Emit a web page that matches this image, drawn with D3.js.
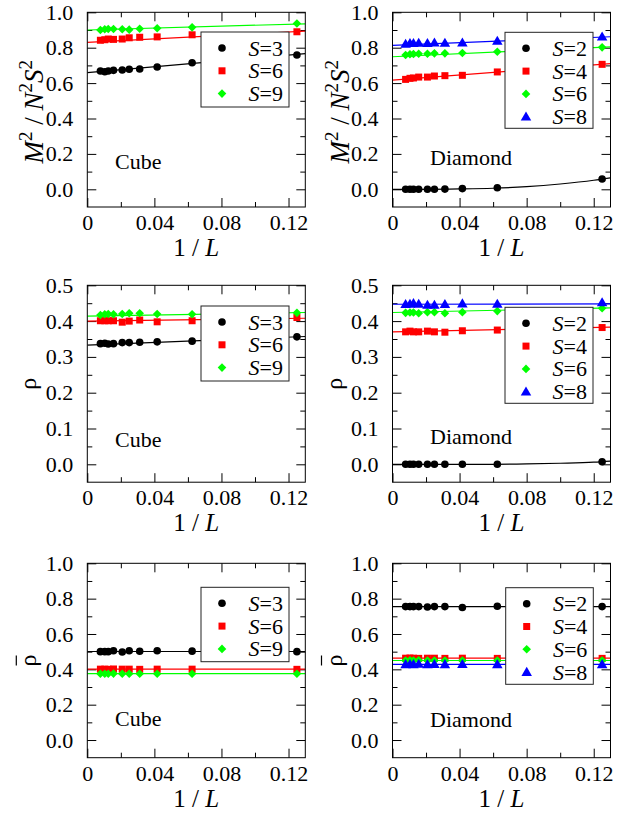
<!DOCTYPE html>
<html>
<head>
<meta charset="utf-8">
<script src="https://cdn.jsdelivr.net/npm/d3@7"></script>
<style>
  body { margin: 0; background: #fff; }
  svg { display: block; font-family: 'Liberation Serif', 'Times New Roman', serif; }
</style>
</head>
<body>
<svg width="639" height="815"></svg>
<script>
// system sizes L, plotted as 1/L
const sizes = [128, 96, 80, 64, 48, 40, 32, 24, 16, 8];

const xMajor = [0, 0.04, 0.08, 0.12];
const xMinor = [0.02, 0.06, 0.1];
const xTickLabels = ['0', '0.04', '0.08', '0.12'];

// y ticks per row
const yMajorM2 = [0, 0.2, 0.4, 0.6, 0.8, 1.0];
const yMinorM2 = [0.1, 0.3, 0.5, 0.7, 0.9];
const yMajorRho = [0, 0.1, 0.2, 0.3, 0.4, 0.5];
const yMinorRho = [0.05, 0.15, 0.25, 0.35, 0.45];

const cubeSpins = ['3', '6', '9'];
const diamondSpins = ['2', '4', '6', '8'];

// x positions of the fitted lines
const fitLineX = [0, 0.13];
const fitCurveX = [0, 0.02, 0.04, 0.06, 0.08, 0.1, 0.12, 0.13];

// M^2 / N^2 S^2, cube
const cubeM2S3 = [0.668, 0.664, 0.668, 0.672, 0.674, 0.678, 0.680, 0.691, 0.715, 0.759];
const cubeM2S6 = [0.842, 0.845, 0.849, 0.847, 0.849, 0.856, 0.859, 0.861, 0.873, 0.890];
const cubeM2S9 = [0.900, 0.904, 0.906, 0.906, 0.904, 0.902, 0.907, 0.910, 0.915, 0.937];
const cubeM2Fit3 = [0.659, 0.767];
const cubeM2Fit6 = [0.830, 0.894];
const cubeM2Fit9 = [0.900, 0.935];

// M^2 / N^2 S^2, diamond
const diaM2S2 = [0, 0, 0, 0, 0, 0, 0.001, 0.004, 0.009, 0.058];
const diaM2S4 = [0.621, 0.627, 0.629, 0.634, 0.634, 0.640, 0.642, 0.644, 0.663, 0.706];
const diaM2S6 = [0.759, 0.763, 0.764, 0.766, 0.766, 0.768, 0.768, 0.770, 0.777, 0.802];
const diaM2S8 = [0.821, 0.825, 0.825, 0.827, 0.825, 0.828, 0.827, 0.828, 0.838, 0.862];
const diaM2Fit2 = [0, 0, 0.002, 0.006, 0.015, 0.030, 0.051, 0.065];
const diaM2Fit4 = [0.617, 0.710];
const diaM2Fit6 = [0.749, 0.805];
const diaM2Fit8 = [0.813, 0.862];

// rho, cube
const cubeRhoS3 = [0.337, 0.338, 0.336, 0.337, 0.340, 0.340, 0.341, 0.342, 0.344, 0.356];
const cubeRhoS6 = [0.401, 0.401, 0.401, 0.401, 0.397, 0.400, 0.403, 0.398, 0.401, 0.410];
const cubeRhoS9 = [0.417, 0.419, 0.420, 0.419, 0.420, 0.422, 0.422, 0.420, 0.419, 0.423];
const cubeRhoFit3 = [0.333, 0.357];
const cubeRhoFit6 = [0.400, 0.408];
const cubeRhoFit9 = [0.414, 0.424];

// rho, diamond
const diaRhoS2 = [0, 0, 0, 0, 0, 0, 0, 0, 0, 0.007];
const diaRhoS4 = [0.370, 0.372, 0.370, 0.370, 0.372, 0.370, 0.369, 0.373, 0.375, 0.382];
const diaRhoS6 = [0.423, 0.424, 0.424, 0.422, 0.425, 0.425, 0.422, 0.425, 0.428, 0.436];
const diaRhoS8 = [0.447, 0.448, 0.450, 0.448, 0.445, 0.445, 0.447, 0.449, 0.448, 0.452];
const diaRhoFit2 = [0, 0, 0, 0, 0.001, 0.003, 0.006, 0.009];
const diaRhoFit4 = [0.370, 0.383];
const diaRhoFit6 = [0.424, 0.437];
const diaRhoFit8 = [0.447, 0.448];

// rho bar, cube
const cubeBarS3 = [0.500, 0.500, 0.500, 0.505, 0.498, 0.505, 0.502, 0.505, 0.503, 0.500];
const cubeBarS6 = [0.401, 0.401, 0.400, 0.402, 0.401, 0.401, 0.400, 0.401, 0.401, 0.400];
const cubeBarS9 = [0.375, 0.375, 0.375, 0.376, 0.375, 0.375, 0.375, 0.375, 0.375, 0.375];
const cubeBarFit3 = [0.501, 0.501];
const cubeBarFit6 = [0.401, 0.401];
const cubeBarFit9 = [0.376, 0.376];

// rho bar, diamond
const diaBarS2 = [0.755, 0.755, 0.755, 0.755, 0.753, 0.755, 0.755, 0.750, 0.757, 0.755];
const diaBarS4 = [0.463, 0.464, 0.463, 0.462, 0.463, 0.463, 0.462, 0.463, 0.462, 0.462];
const diaBarS6 = [0.450, 0.451, 0.450, 0.451, 0.450, 0.450, 0.450, 0.450, 0.450, 0.450];
const diaBarS8 = [0.428, 0.429, 0.428, 0.430, 0.428, 0.429, 0.428, 0.429, 0.428, 0.428];
const diaBarFit2 = [0.755, 0.755];
const diaBarFit4 = [0.463, 0.463];
const diaBarFit6 = [0.450, 0.450];
const diaBarFit8 = [0.428, 0.428];

const svg = d3.select('svg');

const cubeStyle = [
  { color: '#000', sym: 'circle' },
  { color: '#ff0000', sym: 'square' },
  { color: '#00ff00', sym: 'diamond' }
];
const diaStyle = [
  { color: '#000', sym: 'circle' },
  { color: '#ff0000', sym: 'square' },
  { color: '#00ff00', sym: 'diamond' },
  { color: '#0000ff', sym: 'triangle' }
];

const colLeft = [87.3, 392.5], plotW = 218;
const rowTop = [12.3, 285.3, 563.3], rowBottom = [207, 482.2, 757.7];

function pair(values, fitVals, fitX) {
  return {
    points: sizes.map((L, i) => [1 / L, values[i]]),
    fit: fitX.map((x, i) => [x, fitVals[i]])
  };
}

const panels = [
  { col: 0, row: 0, name: 'Cube', yLab: 'm2', spins: cubeSpins, style: cubeStyle, nameAt: [0.0165, 0.113],
    legendBox: [201, 32, 88, 75],
    series: [pair(cubeM2S3, cubeM2Fit3, fitLineX), pair(cubeM2S6, cubeM2Fit6, fitLineX), pair(cubeM2S9, cubeM2Fit9, fitLineX)] },
  { col: 1, row: 0, name: 'Diamond', yLab: 'm2', spins: diamondSpins, style: diaStyle, nameAt: [0.0224, 0.136],
    legendBox: [505, 32.3, 88, 96],
    series: [pair(diaM2S2, diaM2Fit2, fitCurveX), pair(diaM2S4, diaM2Fit4, fitLineX), pair(diaM2S6, diaM2Fit6, fitLineX), pair(diaM2S8, diaM2Fit8, fitLineX)] },
  { col: 0, row: 1, name: 'Cube', yLab: 'rho', spins: cubeSpins, style: cubeStyle, nameAt: [0.0165, 0.048],
    legendBox: [201, 306, 88, 75],
    series: [pair(cubeRhoS3, cubeRhoFit3, fitLineX), pair(cubeRhoS6, cubeRhoFit6, fitLineX), pair(cubeRhoS9, cubeRhoFit9, fitLineX)] },
  { col: 1, row: 1, name: 'Diamond', yLab: 'rho', spins: diamondSpins, style: diaStyle, nameAt: [0.0224, 0.056],
    legendBox: [505, 307.3, 88, 96],
    series: [pair(diaRhoS2, diaRhoFit2, fitCurveX), pair(diaRhoS4, diaRhoFit4, fitLineX), pair(diaRhoS6, diaRhoFit6, fitLineX), pair(diaRhoS8, diaRhoFit8, fitLineX)] },
  { col: 0, row: 2, name: 'Cube', yLab: 'rhobar', spins: cubeSpins, style: cubeStyle, nameAt: [0.0165, 0.079],
    legendBox: [201, 587.3, 88, 74.4],
    series: [pair(cubeBarS3, cubeBarFit3, fitLineX), pair(cubeBarS6, cubeBarFit6, fitLineX), pair(cubeBarS9, cubeBarFit9, fitLineX)] },
  { col: 1, row: 2, name: 'Diamond', yLab: 'rhobar', spins: diamondSpins, style: diaStyle, nameAt: [0.0224, 0.074],
    legendBox: [505.7, 587.7, 87.6, 96.6],
    series: [pair(diaBarS2, diaBarFit2, fitLineX), pair(diaBarS4, diaBarFit4, fitLineX), pair(diaBarS6, diaBarFit6, fitLineX), pair(diaBarS8, diaBarFit8, fitLineX)] }
];

const yDomains = [[-0.1, 1.0], [-0.05, 0.5], [-0.1, 1.0]];
const yMajors = [yMajorM2, yMajorRho, yMajorM2];
const yMinors = [yMinorM2, yMinorRho, yMinorM2];

function marker(g, sym, color, cx, cy) {
  if (sym === 'circle') {
    g.append('circle').attr('cx', cx).attr('cy', cy).attr('r', 3.8).attr('fill', color);
  } else if (sym === 'square') {
    g.append('rect').attr('x', cx - 3.5).attr('y', cy - 3.5).attr('width', 7).attr('height', 7).attr('fill', color);
  } else if (sym === 'diamond') {
    g.append('path').attr('d', `M${cx},${cy - 4.3}L${cx + 4.3},${cy}L${cx},${cy + 4.3}L${cx - 4.3},${cy}Z`).attr('fill', color);
  } else {
    g.append('path').attr('d', d3.symbol(d3.symbolTriangle, 48)()).attr('transform', `translate(${cx},${cy + 0.8})`).attr('fill', color);
  }
}

panels.forEach((p, pi) => {
  const x0 = colLeft[p.col], top = rowTop[p.row], bottom = rowBottom[p.row];
  const x = d3.scaleLinear().domain([0, 0.13]).range([x0, x0 + plotW]);
  const y = d3.scaleLinear().domain(yDomains[p.row]).range([bottom, top]);
  const g = svg.append('g');

  g.append('clipPath').attr('id', 'clip' + pi)
    .append('rect').attr('x', x0).attr('y', top).attr('width', plotW).attr('height', bottom - top);

  // axes: ticks inward on all four sides
  const fmtX = (d) => xTickLabels[xMajor.indexOf(d)];
  const axes = [
    [d3.axisBottom(x).tickValues(xMajor).tickSize(-9).tickPadding(7.4).tickFormat(fmtX), `translate(0,${bottom})`],
    [d3.axisBottom(x).tickValues(xMinor).tickSize(-5).tickFormat(''), `translate(0,${bottom})`],
    [d3.axisTop(x).tickValues(xMajor).tickSize(-9).tickFormat(''), `translate(0,${top})`],
    [d3.axisTop(x).tickValues(xMinor).tickSize(-5).tickFormat(''), `translate(0,${top})`],
    [d3.axisLeft(y).tickValues(yMajors[p.row]).tickSize(-9).tickPadding(14).tickFormat(d3.format('.1f')), `translate(${x0},0)`],
    [d3.axisLeft(y).tickValues(yMinors[p.row]).tickSize(-5).tickFormat(''), `translate(${x0},0)`],
    [d3.axisRight(y).tickValues(yMajors[p.row]).tickSize(-9).tickFormat(''), `translate(${x0 + plotW},0)`],
    [d3.axisRight(y).tickValues(yMinors[p.row]).tickSize(-5).tickFormat(''), `translate(${x0 + plotW},0)`]
  ];
  axes.forEach(([ax, tr]) => {
    const a = g.append('g').attr('transform', tr).call(ax)
      .attr('font-family', null).attr('font-size', 22);
    a.select('.domain').remove();
    a.selectAll('line').attr('stroke', '#000');
    a.selectAll('text').attr('fill', '#000');
  });

  // fits and points
  const plot = g.append('g').attr('clip-path', `url(#clip${pi})`);
  const line = d3.line().x((d) => x(d[0])).y((d) => y(d[1])).curve(d3.curveMonotoneX);
  p.series.forEach((s, si) => {
    plot.append('path').attr('d', line(s.fit)).attr('fill', 'none')
      .attr('stroke', p.style[si].color).attr('stroke-width', 1.2);
  });
  p.series.forEach((s, si) => {
    s.points.forEach((d) => marker(plot, p.style[si].sym, p.style[si].color, x(d[0]), y(d[1])));
  });

  g.append('rect').attr('x', x0).attr('y', top).attr('width', plotW).attr('height', bottom - top)
    .attr('fill', 'none').attr('stroke', '#000').attr('stroke-width', 1);

  // lattice name
  g.append('text').attr('x', x(p.nameAt[0])).attr('y', y(p.nameAt[1]))
    .attr('font-size', 22).text(p.name);

  // legend
  const [lx, ly, lw, lh] = p.legendBox;
  g.append('rect').attr('x', lx).attr('y', ly).attr('width', lw).attr('height', lh)
    .attr('fill', '#fff').attr('stroke', '#222').attr('stroke-width', 1);
  p.spins.forEach((sp, i) => {
    const cy = ly + 16 + i * 22.8;
    marker(g, p.style[i].sym, p.style[i].color, lx + 21, cy);
    const t = g.append('text').attr('x', lx + lw - 6).attr('y', cy + 7.5)
      .attr('text-anchor', 'end').attr('font-size', 22);
    t.append('tspan').attr('font-style', 'italic').text('S');
    t.append('tspan').text('=' + sp);
  });

  // axis titles
  const cx = x0 + plotW / 2;
  const xl = g.append('text').attr('x', cx).attr('y', bottom + 49)
    .attr('text-anchor', 'middle').attr('font-size', 25);
  xl.append('tspan').text('1 / ');
  xl.append('tspan').attr('font-style', 'italic').text('L');

  const midY = (top + bottom) / 2;
  if (p.yLab === 'm2') {
    const t = g.append('text').attr('transform', `translate(${x0 - 44},${midY + 2}) rotate(-90)`)
      .attr('text-anchor', 'middle').attr('font-size', 27);
    t.append('tspan').attr('font-style', 'italic').text('M');
    t.append('tspan').attr('dy', -11).attr('font-size', 19).text('2');
    t.append('tspan').attr('dy', 11).text(' / ');
    t.append('tspan').attr('font-style', 'italic').text('N');
    t.append('tspan').attr('dy', -11).attr('font-size', 19).text('2');
    t.append('tspan').attr('dy', 11).attr('font-style', 'italic').text('S');
    t.append('tspan').attr('dy', -11).attr('font-size', 19).text('2');
  } else {
    const rg = g.append('g').attr('transform', `translate(${x0 - 51},${midY}) rotate(-90)`);
    rg.append('text').attr('text-anchor', 'middle').attr('font-size', 24).text('ρ');
    if (p.yLab === 'rhobar') {
      rg.append('line').attr('x1', -5).attr('x2', 5).attr('y1', -20).attr('y2', -20)
        .attr('stroke', '#000').attr('stroke-width', 1.2);
    }
  }
});
</script>
</body>
</html>
